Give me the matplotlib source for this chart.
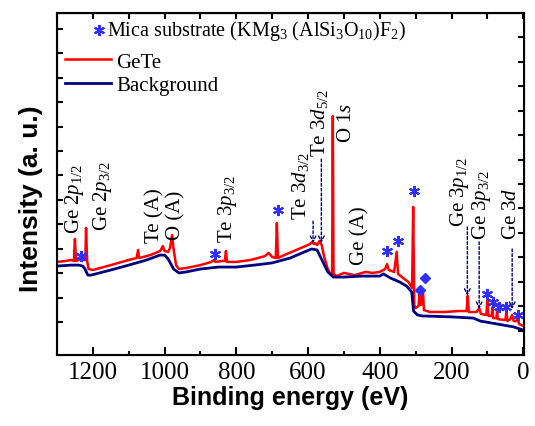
import matplotlib
matplotlib.use("Agg")
import matplotlib.pyplot as plt
import numpy as np

plt.rcParams['font.family'] = 'Liberation Serif'
plt.rcParams['mathtext.fontset'] = 'custom'
plt.rcParams['mathtext.rm'] = 'Liberation Serif'
plt.rcParams['mathtext.it'] = 'Liberation Serif:italic'

# GeTe survey spectrum (binding energy in eV, intensity in a.u.)
gete_ev = [1300, 1275, 1262, 1253, 1250, 1247, 1240, 1234, 1228, 1221, 1219, 1216, 1212, 1200,
           1150, 1100, 1078, 1074, 1071, 1040, 1012, 1005, 1000, 990, 985, 979, 975, 968, 960,
           940, 900, 870, 862, 858, 840, 832, 829, 826, 800, 760, 720, 710, 700, 690, 687, 684,
           660, 620, 595, 588, 584, 580, 575, 568, 562, 555, 545, 538, 533, 531, 529, 520, 500,
           470, 440, 420, 400, 385, 380, 375, 360, 353, 349, 335, 320, 310, 307, 304, 300, 292,
           289, 287, 282, 280, 277, 260, 220, 180, 158, 155, 152, 130, 123, 118, 103, 100, 97,
           88, 86, 84, 75, 73, 71, 50, 47, 44, 36, 31, 27, 18, 15, 12, 0]
gete_int = [3.81, 3.85, 3.89, 3.85, 4.75, 3.85, 3.89, 3.97, 3.89, 3.89, 5.20, 3.85, 3.52, 3.48,
            3.68, 3.89, 3.97, 4.30, 3.97, 4.09, 4.26, 4.46, 4.26, 4.22, 4.38, 4.91, 4.34, 3.68, 3.52,
            3.56, 3.68, 3.81, 3.89, 3.81, 3.85, 3.85, 4.26, 3.81, 3.81, 3.89, 4.05, 4.18, 4.01, 3.97, 5.40, 3.97,
            4.13, 4.38, 4.54, 4.63, 4.54, 4.58, 4.50, 4.67, 4.50, 4.01, 3.52, 3.32, 3.32, 9.78, 3.32, 3.23, 3.36,
            3.27, 3.40, 3.36, 3.40, 3.52, 3.72, 3.48, 3.40, 4.22, 3.32, 3.15, 2.99, 2.74, 6.06, 2.05, 1.92, 2.01,
            2.58, 2.05, 2.09, 2.70, 1.84, 1.76, 1.76, 1.80, 1.80, 2.42, 1.76, 1.76, 1.92, 1.68, 1.64, 2.25, 1.60,
            1.60, 1.96, 1.51, 1.51, 1.80, 1.47, 1.43, 1.76, 1.39, 1.47, 1.64, 1.39, 1.39, 1.56, 1.27, 1.19]

bg_ev = [1300, 1260, 1240, 1228, 1222, 1214, 1205, 1150, 1100, 1050, 1013, 1000, 990, 975, 960,
         940, 900, 850, 800, 750, 700, 650, 610, 590, 575, 560, 545, 530, 500, 450, 400, 390,
         370, 345, 325, 311, 306, 295, 283, 200, 139, 120, 73, 27, 0]
bg_int = [3.64, 3.68, 3.68, 3.64, 3.52, 3.27, 3.27, 3.48, 3.68, 3.89, 4.09, 4.09, 3.93, 3.52, 3.36,
          3.40, 3.52, 3.60, 3.60, 3.68, 3.77, 3.97, 4.22, 4.34, 4.30, 3.85, 3.40, 3.19, 3.19, 3.23, 3.23, 3.32,
          3.15, 2.99, 2.82, 2.58, 1.80, 1.64, 1.60, 1.56, 1.51, 1.39, 1.27, 1.15, 1.02]

# mica substrate peaks (*) and extra peaks (diamond)
mica_ev = [1233, 859, 683, 379, 349, 304, 100, 84, 67, 47, 14]
mica_y = [4.05, 4.13, 5.94, 4.26, 4.67, 6.71, 2.50, 2.18, 1.97, 1.97, 1.62]
dia_ev = [287, 273]
dia_y = [2.66, 3.15]

# peak labels: text, x (eV), bottom of text (a.u.)
lab_txt = ['Ge 2$p_{1/2}$', 'Ge 2$p_{3/2}$', 'Te (A)', 'O (A)', 'Te 3$p_{3/2}$',
           'Te 3$d_{3/2}$', 'Te 3$d_{5/2}$', 'O 1$s$', 'Ge (A)',
           'Ge 3$p_{1/2}$', 'Ge 3$p_{3/2}$', 'Ge 3$d$']
lab_x = [1250, 1172, 1028, 970, 826, 620, 567, 493, 455, 179, 116, 34]
lab_y = [4.99, 5.12, 4.63, 4.75, 4.63, 5.57, 8.15, 8.72, 3.72, 5.28, 4.75, 4.75]

# dashed arrows: x (eV), start, end
arr_x = [586, 563, 156, 123, 31]
arr_y0 = [5.48, 8.02, 5.24, 4.63, 4.34]
arr_y1 = [4.58, 4.58, 2.42, 1.88, 1.88]

fig = plt.figure(figsize=(5.35, 4.27), dpi=100)
ax = fig.add_axes([57/535, 1-356/427, 467/535, 342/427])

ax.plot(gete_ev, gete_int, color='#ff0000', lw=1.8, label='GeTe')
ax.plot(bg_ev, bg_int, color='#000080', lw=2.0, label='Background')
ax.plot(mica_ev, mica_y, ls='none', marker=(6, 2, 0), ms=8, mew=1.5, color='#2f2fff')
ax.plot(dia_ev, dia_y, ls='none', marker='D', ms=5, color='#2f2fff')

for t, x, y in zip(lab_txt, lab_x, lab_y):
    ax.text(x, y, t, rotation=90, ha='center', va='bottom', fontsize=15)

for x, y0, y1 in zip(arr_x, arr_y0, arr_y1):
    ax.annotate('', xy=(x, y1), xytext=(x, y0),
                arrowprops=dict(arrowstyle='->', color='#000080', lw=1.0, ls=(0, (2, 1.5)),
                                shrinkA=0, shrinkB=0))

ax.set_xlim(1300, -2)
ax.set_ylim(0, 14)
ax.set_xticks(np.arange(0, 1201, 200))
ax.set_xticks(np.arange(0, 1301, 100), minor=True)
ax.set_yticks(np.arange(1.35, 13.5, 1))
ax.set_yticklabels([])
ax.tick_params(axis='x', which='major', direction='in', length=6, width=1.5, labelsize=18, pad=4)
ax.tick_params(axis='x', which='minor', direction='in', length=3, width=1.5)
ax.tick_params(axis='y', direction='in', length=4, width=1.5)
for s in ax.spines.values():
    s.set_linewidth(1.5)

top = ax.secondary_xaxis('top')
top.set_xticks(np.arange(0, 1301, 100))
top.set_xticklabels([])
top.tick_params(direction='in', length=4, width=1.5)

right = ax.twinx()
right.set_ylim(0, 14)
right.set_yticks(np.arange(1.0, 13.5, 1))
right.set_yticklabels([])
right.tick_params(direction='in', length=4, width=1.5)

ax.set_xlabel('Binding energy (eV)', fontsize=18, fontweight='bold', family='Liberation Sans', labelpad=2)
ax.set_ylabel('Intensity (a. u.)', fontsize=19, fontweight='bold', family='Liberation Sans')
ax.yaxis.set_label_coords(-0.03, 0.46)

leg = ax.legend(loc='upper left', bbox_to_anchor=(0.017, 0.886), frameon=False, fontsize=15,
                handlelength=2.2, handletextpad=0.25, labelspacing=0.2, borderpad=0, borderaxespad=0)
ax.plot([0.09], [0.95], transform=ax.transAxes, ls='none', marker=(6, 2, 0), ms=8, mew=1.5,
        color='#2f2fff', clip_on=False)
ax.text(0.107, 0.95, 'Mica substrate (KMg$_3$ (AlSi$_3$O$_{10}$)F$_2$)', transform=ax.transAxes,
        fontsize=14.5, va='center', ha='left')

fig.savefig('out.png', dpi=100)
